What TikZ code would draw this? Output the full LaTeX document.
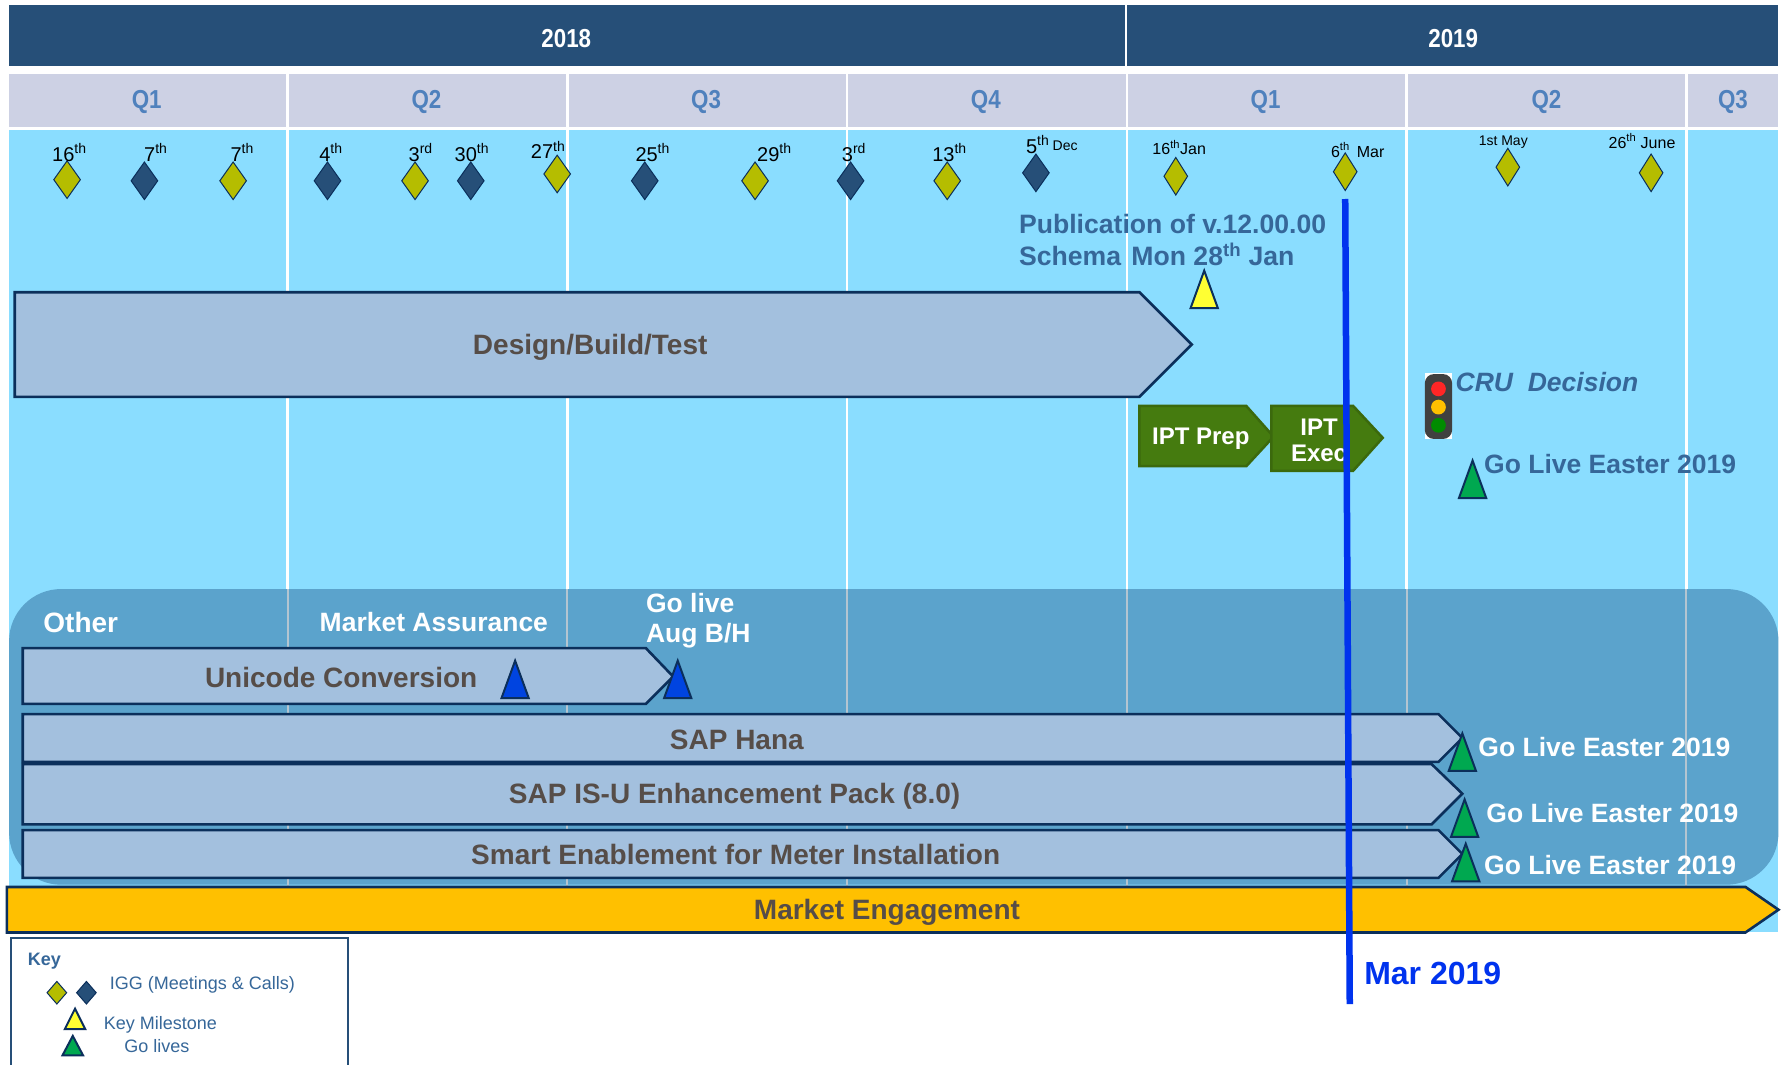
\documentclass[tikz,border=0pt]{standalone}
\usepackage{fontspec}
\setmainfont{Liberation Sans}
\newfontfamily\narrowfont[FakeStretch=0.86]{Liberation Sans}
\usepackage{xcolor}
\usetikzlibrary{shapes.geometric}

\definecolor{yearblue}{HTML}{264F78}
\definecolor{quartergrey}{HTML}{CDD1E4}
\definecolor{quarterblue}{HTML}{4F81BD}
\definecolor{skyblue}{HTML}{8ADDFF}
\definecolor{otherblue}{HTML}{5BA3CC}
\definecolor{barblue}{HTML}{A3C0DE}
\definecolor{navyline}{HTML}{0B2F5B}
\definecolor{olive}{HTML}{B5BD00}
\definecolor{textgrey}{HTML}{564D48}
\definecolor{noteblue}{HTML}{366799}
\definecolor{iptgreen}{HTML}{457B0F}
\definecolor{golive}{HTML}{00A850}
\definecolor{nowblue}{HTML}{0033EE}
\definecolor{assurblue}{HTML}{0044E0}
\definecolor{amber}{HTML}{FFC000}
\definecolor{miledone}{HTML}{FFFF33}
\definecolor{fadedline}{HTML}{B4C5D1}

\newcommand{\sz}[1]{\fontsize{#1}{#1}\selectfont}
\newcommand{\marker}[3]{\draw[tri,fill=#3] (#1,#2) -- ++(12,33) -- ++(-24,0) -- cycle;}

\tikzset{
	igga/.style={shape=diamond,draw=navyline,line width=1pt,fill=olive,inner sep=0pt,minimum width=27pt,minimum height=38pt},
	iggb/.style={igga,fill=yearblue},
	tri/.style={draw=navyline,line width=2pt,line join=miter},
	barshape/.style={draw=navyline,line width=2.6pt,fill=barblue},
	bartext/.style={text=textgrey,font=\sz{28}\bfseries},
	datetext/.style={text=black,font=\sz{20},inner sep=0pt},
	headtext/.style={font=\narrowfont\sz{26}\bfseries},
	notetext/.style={text=noteblue,font=\sz{26.6}\bfseries,inner sep=0pt,anchor=west},
	whitetext/.style={text=white,font=\sz{26.5}\bfseries,inner sep=0pt,anchor=west},
	keytext/.style={text=noteblue,font=\sz{18},inner sep=0pt},
}

\begin{document}
\begin{tikzpicture}[x=1.1371pt,y=-1.1371pt]
	\useasboundingbox (0,0) rectangle (1568,936);
	\fill[white] (0,0) rectangle (1568,936);

	% background
	\fill[skyblue] (8,114) rectangle (1564,820);
	\fill[quartergrey] (8,65) rectangle (1564,112);
	\fill[yearblue] (8,4) rectangle (1564,58);
	\draw[white,line width=2.5pt] (990,4) -- (990,58);
	\foreach \x in {253,499,745,991,1237,1483}
		\draw[white,line width=2.5pt] (\x,65) -- (\x,518);

	% other panel
	\fill[otherblue,rounded corners=52pt] (8,518) rectangle (1564,778);
	\foreach \x in {253,499,745,991,1237,1483}
		\draw[fadedline,line width=2pt] (\x,518) -- (\x,780);

	\node[headtext,text=white] (y18) at (498,34) {2018};
	\node[headtext,text=white] (y19) at (1278,34) {2019};
	\foreach \x/\q in {129/Q1,375/Q2,621/Q3,867/Q4,1113/Q1,1360/Q2,1524/Q3}
		\node[headtext,text=quarterblue] at (\x,89.5) {\q};

	% igg meetings
	\foreach \x/\y in {59/158,205/159,365/159,490/153,664/159,833/159}
		\node[igga] at (\x,\y) {};
	\foreach \x/\y in {127/159,288/159,414/159,567/159,748/159,911/152}
		\node[iggb] at (\x,\y) {};
	\foreach \x/\y in {1034/155,1183/151,1326/147,1452/152}
		\node[igga,minimum width=24pt] at (\x,\y) {};

	\node[datetext] at (61,134) {16\textsuperscript{th}};
	\node[datetext] at (137,134) {7\textsuperscript{th}};
	\node[datetext] at (213,134) {7\textsuperscript{th}};
	\node[datetext] at (291,134) {4\textsuperscript{th}};
	\node[datetext] at (370,134) {3\textsuperscript{rd}};
	\node[datetext] at (415,134) {30\textsuperscript{th}};
	\node[datetext] at (482,132) {27\textsuperscript{th}};
	\node[datetext] at (574,134) {25\textsuperscript{th}};
	\node[datetext] at (681,134) {29\textsuperscript{th}};
	\node[datetext] at (751,134) {3\textsuperscript{rd}};
	\node[datetext] at (835,134) {13\textsuperscript{th}};
	\node[datetext] at (925,127) {5\textsuperscript{th}\,\raisebox{3pt}{\sz{14}Dec}};
	\node[datetext,font=\sz{16}] at (1037,130) {16\textsuperscript{th}Jan};
	\node[datetext,font=\sz{16}] at (1194,132) {6\textsuperscript{th}\, Mar};
	\node[datetext,font=\sz{14}] at (1322,125) {1st May};
	\node[datetext,font=\sz{16}] at (1444,124) {26\textsuperscript{th} June};

	% publication and design
	\node[notetext] (pub) at (896,197) {Publication of v.12.00.00};
	\node[notetext] (schema) at (896,224) {Schema\:\,Mon 28\textsuperscript{th} Jan};
	\draw[barshape] (13,257) -- (1002,257) -- (1048,303) -- (1002,349) -- (13,349) -- cycle;
	\node[bartext] (design) at (519,305) {Design/Build/Test};
	\marker{1059}{238}{miledone}

	% ipt
	\draw[draw=iptgreen!85!black,line width=2.5pt,fill=iptgreen] (1002,357) -- (1096,357) -- (1120,384) -- (1096,410) -- (1002,410) -- cycle;
	\node[text=white,font=\sz{24}\bfseries] (prep) at (1056,386) {IPT Prep};
	\draw[draw=iptgreen!85!black,line width=2.5pt,fill=iptgreen] (1118,357) -- (1190,357) -- (1216,385) -- (1190,414) -- (1118,414) -- cycle;
	\node[text=white,font=\sz{24}\bfseries,align=center] (exec) at (1160,387) {IPT\\[2pt]Exec};

	% traffic light
	\fill[white] (1253,328) rectangle (1277,386);
	\fill[black!75,rounded corners=9pt] (1253,329) rectangle (1277,386);
	\fill[red!85!white] (1265,342) circle (6.5);
	\fill[amber] (1265,358) circle (6.5);
	\fill[green!55!black] (1265,374) circle (6.5);
	\node[notetext,font=\sz{26.5}\bfseries\itshape] (cru) at (1280,336) {CRU\; Decision};
	\marker{1295}{405}{golive}
	\node[notetext,font=\sz{26.5}\bfseries] (easter) at (1305,408) {Go Live Easter 2019};

	% other bars
	\node[whitetext,font=\sz{28}\bfseries] (other) at (38,547) {Other};
	\node[whitetext] (assur) at (281,547) {Market Assurance};
	\node[whitetext,align=left] (aug) at (568,546) {Go live\\[4pt]Aug B/H};
	\draw[barshape] (20,570) -- (568,570) -- (592,595) -- (568,619) -- (20,619) -- cycle;
	\node[bartext] (unicode) at (300,596) {Unicode Conversion};
	\marker{453}{581}{assurblue}
	\marker{596}{581}{assurblue}
	\draw[barshape] (20,628) -- (1265,628) -- (1286,649) -- (1265,670) -- (20,670) -- cycle;
	\node[bartext] (hana) at (648,651) {SAP Hana};
	\draw[barshape] (20,672) -- (1259,672) -- (1286,698) -- (1259,725) -- (20,725) -- cycle;
	\node[bartext] (isu) at (646,700) {SAP IS-U Enhancement Pack (8.0)};
	\draw[barshape] (20,730) -- (1265,730) -- (1286,751) -- (1265,772) -- (20,772) -- cycle;
	\node[bartext] (smart) at (647,751.5) {Smart Enablement for Meter Installation};
	\marker{1286}{645}{golive}
	\marker{1288}{703}{golive}
	\marker{1289}{742}{golive}
	\node[whitetext] at (1300,657) {Go Live Easter 2019};
	\node[whitetext] at (1307,715) {Go Live Easter 2019};
	\node[whitetext] at (1305,761) {Go Live Easter 2019};

	% engagement
	\draw[barshape,fill=amber] (6,780) -- (1535,780) -- (1564,800) -- (1535,820) -- (6,820) -- cycle;
	\node[bartext] (engage) at (780,802) {Market Engagement};

	% today line
	\draw[nowblue,line width=6.5pt] (1183,175) -- (1187,883);
	\node[text=nowblue,font=\sz{32}\bfseries,inner sep=0pt] (mar) at (1260,856) {Mar 2019};

	% key
	\draw[draw=yearblue,line width=2pt] (10,945) -- (10,825) -- (306,825) -- (306,945);
	\node[keytext,font=\sz{18}\bfseries] (key) at (39,845) {Key};
	\node[igga,minimum width=20pt,minimum height=23pt] (k1) at (50,873) {};
	\node[iggb,minimum width=20pt,minimum height=23pt] (k2) at (76,873) {};
	\node[keytext] (kigg) at (178,866) {IGG (Meetings \& Calls)};
	\draw[tri,fill=miledone] (66,887) -- (75,905) -- (57,905) -- cycle;
	\node[keytext] (kmile) at (141,901) {Key Milestone};
	\draw[tri,fill=golive] (64,911) -- (73,928) -- (55,928) -- cycle;
	\node[keytext] (klive) at (138,920) {Go lives};
\end{tikzpicture}
\end{document}
